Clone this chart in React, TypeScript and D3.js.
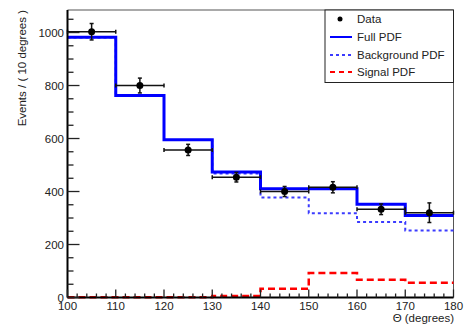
import React from "react";
import * as d3 from "d3";

// Bin edges (degrees) and per-bin contents
const binEdges = [100, 110, 120, 130, 140, 150, 160, 170, 180];
const dataValues = [1003, 800, 557, 454, 400, 416, 333, 320];
const dataErrors = [31, 28, 21, 18, 19, 21, 20, 37];
const fullPdf = [982, 762, 595, 474, 410, 410, 352, 309];
const backgroundPdf = [981, 761, 594, 468, 377, 318, 285, 253];
const signalPdf = [1, 1, 1, 6, 33, 92, 67, 56];

const xMajorTicks = [100, 110, 120, 130, 140, 150, 160, 170, 180];
const yMajorTicks = [0, 200, 400, 600, 800, 1000];

const legendItems = ["Data", "Full PDF", "Background PDF", "Signal PDF"];

const W = 467;
const H = 324;
const left = 67.5;
const right = 453.5;
const top = 10;
const bottom = 297.5;

const FONT = "'Liberation Sans', Arial, Helvetica, sans-serif";

export default function App() {
  const x = d3.scaleLinear().domain([100, 180]).range([left, right]);
  const y = d3.scaleLinear().domain([0, 1085]).range([bottom, top]);

  // Histogram-style step path for a set of bin contents
  const stepPath = (vals: number[]) => {
    const pts: [number, number][] = [];
    vals.forEach((v, i) => {
      pts.push([x(binEdges[i]), y(v)]);
      pts.push([x(binEdges[i + 1]), y(v)]);
    });
    return d3.line()(pts) ?? "";
  };

  const xMinor = d3.range(100, 180.01, 2).filter((t) => t % 10 !== 0);
  const yMinor = d3.range(0, 1085, 50).filter((t) => t % 200 !== 0);

  const legendX = 325;
  const legendRowY = [19, 37, 55, 72];

  return (
    <svg width={W} height={H} style={{ position: "absolute", left: 0, top: 0 }}>
      <rect width={W} height={H} fill="#fff" />

      {/* frame */}
      <line x1={left} x2={right} y1={top} y2={top} stroke="#555" strokeWidth={1} />
      <line x1={right} x2={right} y1={top} y2={bottom} stroke="#555" strokeWidth={1} />

      {/* PDFs */}
      <path d={stepPath(backgroundPdf)} fill="none" stroke="#3b3bff" strokeWidth={2} strokeDasharray="3,3" />
      <path d={stepPath(signalPdf)} fill="none" stroke="#ff0000" strokeWidth={2.5} strokeDasharray="7,4" />
      <path d={stepPath(fullPdf)} fill="none" stroke="#0000ff" strokeWidth={3} />

      {/* data points with error bars */}
      {dataValues.map((v, i) => {
        const x0 = x(binEdges[i]);
        const x1 = x(binEdges[i + 1]);
        const xc = x((binEdges[i] + binEdges[i + 1]) / 2);
        const yc = y(v);
        const yLo = y(v - dataErrors[i]);
        const yHi = y(v + dataErrors[i]);
        return (
          <g key={i} stroke="#111" strokeWidth={1.5}>
            <line x1={x0} x2={x1} y1={yc} y2={yc} />
            <line x1={x0} x2={x0} y1={yc - 2} y2={yc + 2} />
            <line x1={x1} x2={x1} y1={yc - 2} y2={yc + 2} />
            <line x1={xc} x2={xc} y1={yHi} y2={yLo} />
            <line x1={xc - 2} x2={xc + 2} y1={yHi} y2={yHi} />
            <line x1={xc - 2} x2={xc + 2} y1={yLo} y2={yLo} />
            <circle cx={xc} cy={yc} r={3.5} fill="#000" stroke="none" />
          </g>
        );
      })}

      {/* axes */}
      <line x1={left} x2={left} y1={top} y2={bottom} stroke="#000" strokeWidth={2} />
      <line x1={left} x2={right} y1={bottom} y2={bottom} stroke="#000" strokeWidth={2} />

      {xMajorTicks.map((t) => (
        <g key={"xt" + t}>
          <line x1={x(t)} x2={x(t)} y1={bottom} y2={bottom - 8} stroke="#222" strokeWidth={1.3} />
          <text x={x(t)} y={309.5} textAnchor="middle" fontFamily={FONT} fontSize={11.5} fill="#222">
            {t}
          </text>
        </g>
      ))}
      {xMinor.map((t) => (
        <line key={"xm" + t} x1={x(t)} x2={x(t)} y1={bottom} y2={bottom - 4} stroke="#222" strokeWidth={1.3} />
      ))}

      {yMajorTicks.map((t) => (
        <g key={"yt" + t}>
          <line x1={left} x2={left + 12} y1={y(t)} y2={y(t)} stroke="#222" strokeWidth={1.3} />
          <text x={64} y={y(t) + 4} textAnchor="end" fontFamily={FONT} fontSize={11.5} fill="#222">
            {t}
          </text>
        </g>
      ))}
      {yMinor.map((t) => (
        <line key={"ym" + t} x1={left} x2={left + 6} y1={y(t)} y2={y(t)} stroke="#222" strokeWidth={1.3} />
      ))}

      {/* axis titles */}
      <text
        transform={`translate(26, ${top}) rotate(-90)`}
        textAnchor="end"
        fontFamily={FONT}
        fontSize={11.5}
        fill="#222"
      >
        Events / ( 10 degrees )
      </text>
      <text x={454} y={321.5} textAnchor="end" fontFamily={FONT} fontSize={11.5} fill="#222">
        Θ (degrees)
      </text>

      {/* legend */}
      <rect x={legendX} y={top} width={right - legendX} height={72.5} fill="#fff" stroke="#222" strokeWidth={1} />
      <circle cx={340} cy={legendRowY[0]} r={2.5} fill="#000" />
      <line x1={330} x2={352} y1={legendRowY[1]} y2={legendRowY[1]} stroke="#0000ff" strokeWidth={2} />
      <line x1={330} x2={352} y1={legendRowY[2]} y2={legendRowY[2]} stroke="#3b3bff" strokeWidth={2} strokeDasharray="3,3" />
      <line x1={330} x2={352} y1={legendRowY[3]} y2={legendRowY[3]} stroke="#ff0000" strokeWidth={2} strokeDasharray="5,4" />
      {legendItems.map((t, i) => (
        <text key={t} x={357} y={legendRowY[i] + 4} fontFamily={FONT} fontSize={11.5} fill="#222">
          {t}
        </text>
      ))}
    </svg>
  );
}
